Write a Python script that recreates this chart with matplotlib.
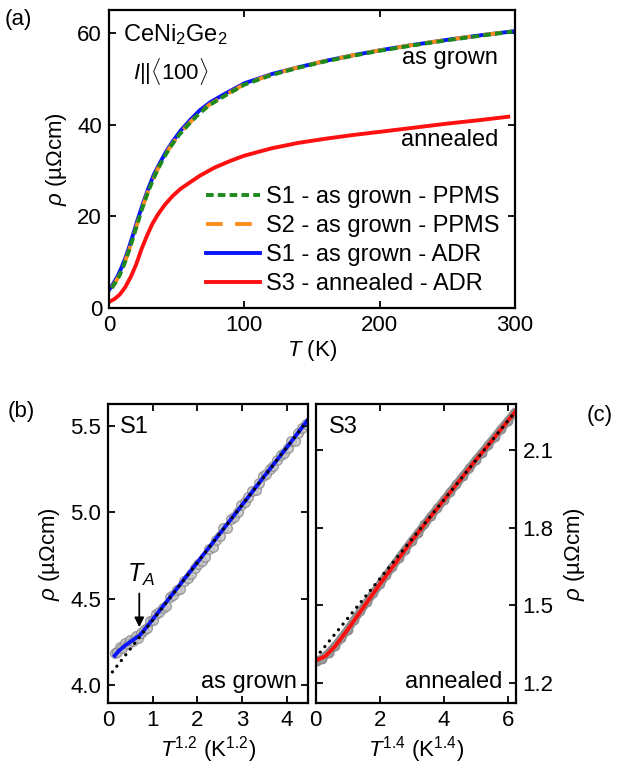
import matplotlib
matplotlib.use('Agg')
import matplotlib.pyplot as plt

plt.rcParams['font.family'] = ['Liberation Sans', 'DejaVu Sans']
plt.rcParams['mathtext.fontset'] = 'custom'
plt.rcParams['mathtext.rm'] = 'Liberation Sans'
plt.rcParams['mathtext.it'] = 'Liberation Sans:italic'
plt.rcParams['font.size'] = 17
plt.rcParams['lines.scale_dashes'] = False

# ---- panel (a): rho vs T ----
T_adr1 = [0.3, 3, 6, 9, 12, 15, 18, 21, 25, 29, 33, 37, 42, 47, 53, 60, 67, 75, 85,
          100, 120, 140, 160, 180, 200, 225, 250, 275, 300]
rho_adr1 = [4.0, 5.2, 6.7, 8.6, 10.8, 13.4, 16.2, 19.1, 22.7, 26.0, 29.0, 31.3, 34.0,
            36.3, 38.7, 41.0, 43.1, 44.9, 46.6, 49.0, 51.0, 52.5, 53.9, 55.1, 56.2,
            57.4, 58.5, 59.5, 60.4]
T_ppms1 = [2, 5, 8, 11, 14, 17, 20, 24, 28, 32, 36, 41, 46, 52, 59, 66, 74, 84,
           100, 120, 140, 160, 180, 200, 225, 250, 275, 298]
rho_ppms1 = [4.3, 5.6, 7.2, 9.3, 11.8, 14.5, 17.4, 21.2, 24.6, 27.6, 30.2, 33.0, 35.4,
             37.8, 40.1, 42.2, 44.2, 46.0, 48.7, 50.8, 52.4, 53.8, 55.0, 56.1, 57.3,
             58.4, 59.4, 60.3]
T_ppms2 = [2, 5, 8, 11, 14, 17, 20, 24, 28, 32, 36, 41, 46, 52, 59, 66, 74, 84,
           100, 120, 140, 160, 180, 200, 225, 250, 275, 298]
rho_ppms2 = [4.4, 5.7, 7.3, 9.4, 11.9, 14.6, 17.5, 21.3, 24.7, 27.7, 30.3, 33.1, 35.5,
             37.9, 40.2, 42.3, 44.3, 46.1, 48.8, 50.9, 52.5, 53.9, 55.1, 56.2, 57.4,
             58.5, 59.5, 60.3]
T_adr3 = [0.3, 4, 8, 12, 16, 20, 24, 28, 32, 36, 41, 47, 53, 60, 67, 78, 90, 100,
          120, 140, 160, 180, 200, 225, 250, 275, 295]
rho_adr3 = [1.3, 1.9, 2.9, 4.5, 6.7, 9.4, 12.8, 15.7, 18.3, 20.3, 22.4, 24.4, 26.0,
            27.4, 28.8, 30.6, 32.1, 33.2, 34.8, 36.0, 36.9, 37.7, 38.4, 39.3, 40.2,
            41.0, 41.7]

# ---- panel (b): S1 as grown vs T^1.2 ----
xb_data = [0.15, 0.20, 0.26, 0.32, 0.38, 0.44, 0.50, 0.56, 0.62, 0.68, 0.74, 0.80,
           0.87, 0.94, 1.01, 1.08, 1.15, 1.22, 1.30, 1.38, 1.46, 1.54, 1.62, 1.70,
           1.78, 1.86, 1.94, 2.02, 2.10, 2.18, 2.26, 2.34, 2.42, 2.50, 2.58, 2.66,
           2.74, 2.82, 2.90, 2.98, 3.06, 3.14, 3.22, 3.30, 3.38, 3.46, 3.54, 3.62,
           3.70, 3.78, 3.86, 3.94, 4.02, 4.10, 4.18, 4.26, 4.34, 4.42]
yb_data = [4.185, 4.19, 4.22, 4.215, 4.245, 4.24, 4.26, 4.255, 4.285, 4.27, 4.30, 4.32,
           4.33, 4.37, 4.375, 4.41, 4.42, 4.445, 4.46, 4.51, 4.52, 4.55, 4.555, 4.60,
           4.62, 4.64, 4.68, 4.70, 4.72, 4.74, 4.79, 4.80, 4.84, 4.86, 4.91, 4.91,
           4.96, 4.97, 5.00, 5.04, 5.06, 5.09, 5.12, 5.13, 5.17, 5.21, 5.22, 5.25,
           5.27, 5.30, 5.33, 5.34, 5.37, 5.41, 5.41, 5.46, 5.49, 5.51]
xb_line = [0.15, 0.25, 0.38, 0.50, 0.60, 0.70, 0.80, 1.0, 1.5, 2.0, 2.5, 3.0, 3.5, 4.0, 4.47]
yb_line = [4.17, 4.20, 4.228, 4.25, 4.268, 4.285, 4.315, 4.38, 4.545, 4.71, 4.876,
           5.042, 5.21, 5.375, 5.535]
xb_fit = [0.10, 4.47]
yb_fit = [4.076, 5.532]

# ---- panel (c): S3 annealed vs T^1.4 ----
xc_data = [0.03, 0.2, 0.4, 0.6, 0.8, 1.0, 1.2, 1.4, 1.6, 1.8, 2.0, 2.2, 2.4, 2.6,
           2.8, 3.0, 3.2, 3.4, 3.6, 3.8, 4.0, 4.2, 4.4, 4.6, 4.8, 5.0, 5.2, 5.4,
           5.6, 5.8, 6.0, 6.2]
yc_data = [1.284, 1.293, 1.315, 1.342, 1.372, 1.405, 1.442, 1.477, 1.511, 1.546,
           1.580, 1.615, 1.648, 1.682, 1.715, 1.748, 1.779, 1.812, 1.844, 1.874,
           1.905, 1.937, 1.967, 1.999, 2.029, 2.061, 2.090, 2.121, 2.151, 2.182,
           2.212, 2.242]
xc_line = [0.03, 0.3, 0.6, 1.0, 1.5, 2.0, 2.5, 3.0, 3.5, 4.0, 4.5, 5.0, 5.5, 6.0, 6.25]
yc_line = [1.287, 1.302, 1.34, 1.405, 1.493, 1.58, 1.664, 1.748, 1.828, 1.905, 1.982,
           2.06, 2.135, 2.212, 2.25]
xc_fit = [0.0, 6.25]
yc_fit = [1.296, 2.25]

RHO_LABEL = r'$\rho$ (µΩcm)'


def style_axes(ax):
    ax.tick_params(direction='in', top=True, right=True, length=5, width=1.3,
                   labelsize=16, pad=5)
    for s in ax.spines.values():
        s.set_linewidth(1.6)


fig = plt.figure(figsize=(6.17, 7.64), dpi=100)

# panel (a)
ax = fig.add_axes([0.1767, 0.5972, 0.658, 0.3897])
ax.plot(T_adr1, rho_adr1, color='#0a14ff', lw=2.8, label='S1 - as grown - ADR', zorder=2)
ax.plot(T_ppms2, rho_ppms2, color='#ff8c1a', lw=2.8, dashes=(12, 9),
        label='S2 - as grown - PPMS', zorder=3)
ax.plot(T_ppms1, rho_ppms1, color='#1e8a1e', lw=2.8, dashes=(5.5, 3),
        label='S1 - as grown - PPMS', zorder=4)
ax.plot(T_adr3, rho_adr3, color='#ff1010', lw=2.8, label='S3 - annealed - ADR', zorder=2)
ax.set_xlim(0, 300)
ax.set_ylim(0, 65)
ax.set_xticks([0, 100, 200, 300])
ax.set_yticks([0, 20, 40, 60])
ax.set_xlabel(r'$T$ (K)', labelpad=2, fontsize=16)
ax.set_ylabel(RHO_LABEL, labelpad=6, fontsize=16)
style_axes(ax)
h, l = ax.get_legend_handles_labels()
order = [2, 1, 0, 3]
ax.legend([h[i] for i in order], [l[i] for i in order], loc='lower right',
          bbox_to_anchor=(0.985, 0.01), frameon=False, handlelength=2.3,
          handletextpad=0.25, labelspacing=0.3, borderaxespad=0.0, fontsize=17)
ax.text(0.035, 0.96, r'CeNi$_2$Ge$_2$', transform=ax.transAxes, ha='left', va='top')
ax.text(0.06, 0.845, r'$I$||$\langle$100$\rangle$', transform=ax.transAxes,
        ha='left', va='top', fontsize=16)
ax.text(0.958, 0.839, 'as grown', transform=ax.transAxes, ha='right', va='center')
ax.text(0.958, 0.563, 'annealed', transform=ax.transAxes, ha='right', va='center')

# panel (b)
axb = fig.add_axes([0.175, 0.0798, 0.324, 0.3914])
axb.plot(xb_data, yb_data, 'o', ms=7, mfc='#c4c4c4', mec='#8c8c8c', mew=1.0,
         alpha=0.8, zorder=1)
axb.plot(xb_line, yb_line, color='#0a14ff', lw=2.8, zorder=2)
axb.plot(xb_fit, yb_fit, color='black', lw=2.4, dashes=(0.01, 5.2),
         dash_capstyle='round', zorder=3)
axb.set_xlim(0, 4.47)
axb.set_ylim(3.896, 5.626)
axb.set_xticks([0, 1, 2, 3, 4])
axb.set_yticks([4.0, 4.5, 5.0, 5.5])
axb.set_yticklabels(['4.0', '4.5', '5.0', '5.5'])
axb.set_xlabel(r'$T^{1.2}$ (K$^{1.2}$)', labelpad=2, fontsize=16)
axb.set_ylabel(RHO_LABEL, labelpad=6, fontsize=16)
style_axes(axb)
axb.text(0.06, 0.96, 'S1', transform=axb.transAxes, ha='left', va='top')
axb.text(0.945, 0.05, 'as grown', transform=axb.transAxes, ha='right', va='baseline')
axb.annotate('', xy=(0.70, 4.335), xytext=(0.70, 4.53),
             arrowprops=dict(arrowstyle='-|>', color='black', lw=1.3,
                             mutation_scale=14, shrinkA=0, shrinkB=0))
axb.text(0.74, 4.56, r'$T_A$', ha='center', va='bottom', fontsize=18)

# panel (c)
axc = fig.add_axes([0.5117, 0.0798, 0.324, 0.3914])
axc.plot(xc_data, yc_data, 'o-', ms=6, lw=6, color='#8c8c8c', mfc='#9a9a9a',
         mec='#8c8c8c', zorder=1)
axc.plot(xc_line, yc_line, color='#ff1010', lw=2.8, zorder=2)
axc.plot(xc_fit, yc_fit, color='black', lw=2.4, dashes=(0.01, 5.2),
         dash_capstyle='round', zorder=3)
axc.set_xlim(0, 6.25)
axc.set_ylim(1.121, 2.278)
axc.set_xticks([0, 2, 4, 6])
axc.set_yticks([1.2, 1.5, 1.8, 2.1])
axc.set_xlabel(r'$T^{1.4}$ (K$^{1.4}$)', labelpad=2, fontsize=16)
axc.yaxis.set_label_position('right')
axc.yaxis.tick_right()
axc.set_ylabel(RHO_LABEL, labelpad=6, fontsize=16)
style_axes(axc)
axc.tick_params(labelleft=False, labelright=True, left=True)
axc.text(0.065, 0.96, 'S3', transform=axc.transAxes, ha='left', va='top')
axc.text(0.935, 0.05, 'annealed', transform=axc.transAxes, ha='right', va='baseline')

fig.text(0.008, 0.988, '(a)', ha='left', va='top', fontsize=16)
fig.text(0.012, 0.475, '(b)', ha='left', va='top', fontsize=16)
fig.text(0.993, 0.47, '(c)', ha='right', va='top', fontsize=16)

fig.savefig('out.png', dpi=100)
